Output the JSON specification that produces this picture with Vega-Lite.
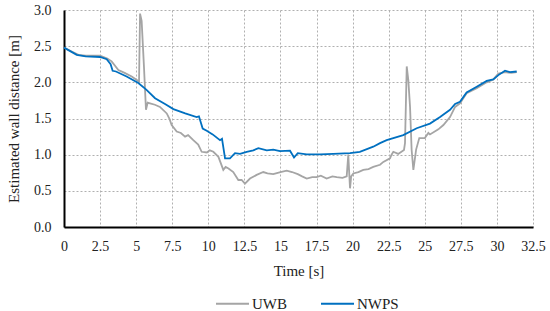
{
  "$schema": "https://vega.github.io/schema/vega-lite/v6.json",
  "width": 469,
  "height": 217,
  "autosize": "none",
  "padding": {"left": 64, "top": 10, "right": 17, "bottom": 84},
  "background": "white",
  "config": {
    "view": {"stroke": null},
    "font": "Liberation Serif, Times New Roman, serif",
    "axis": {
      "labelFont": "Liberation Serif, Times New Roman, serif",
      "titleFont": "Liberation Serif, Times New Roman, serif",
      "labelFontSize": 14,
      "titleFontSize": 15,
      "labelColor": "#222222",
      "titleColor": "#222222",
      "titleFontWeight": "normal",
      "ticks": false,
      "domainColor": "#000000",
      "domainWidth": 2,
      "gridColor": "#b0b0b0",
      "gridDash": [2, 2],
      "gridWidth": 1
    },
    "legend": {
      "labelFont": "Liberation Serif, Times New Roman, serif",
      "labelFontSize": 15,
      "labelColor": "#222222"
    }
  },
  "data": {
    "values": [
      {"t": 0, "v": 2.48, "s": "UWB"},
      {"t": 0.5, "v": 2.43, "s": "UWB"},
      {"t": 1, "v": 2.38, "s": "UWB"},
      {"t": 1.5, "v": 2.37, "s": "UWB"},
      {"t": 2.5, "v": 2.37, "s": "UWB"},
      {"t": 3.0, "v": 2.33, "s": "UWB"},
      {"t": 3.3, "v": 2.29, "s": "UWB"},
      {"t": 3.77, "v": 2.17, "s": "UWB"},
      {"t": 4.2, "v": 2.13, "s": "UWB"},
      {"t": 4.69, "v": 2.08, "s": "UWB"},
      {"t": 5.2, "v": 2.01, "s": "UWB"},
      {"t": 5.27, "v": 2.95, "s": "UWB"},
      {"t": 5.38, "v": 2.85, "s": "UWB"},
      {"t": 5.54, "v": 2.22, "s": "UWB"},
      {"t": 5.68, "v": 1.62, "s": "UWB"},
      {"t": 5.8, "v": 1.72, "s": "UWB"},
      {"t": 5.96, "v": 1.71, "s": "UWB"},
      {"t": 6.3, "v": 1.69, "s": "UWB"},
      {"t": 6.65, "v": 1.66, "s": "UWB"},
      {"t": 7.12, "v": 1.57, "s": "UWB"},
      {"t": 7.3, "v": 1.5, "s": "UWB"},
      {"t": 7.46, "v": 1.41, "s": "UWB"},
      {"t": 7.81, "v": 1.32, "s": "UWB"},
      {"t": 8.1, "v": 1.3, "s": "UWB"},
      {"t": 8.39, "v": 1.25, "s": "UWB"},
      {"t": 8.6, "v": 1.27, "s": "UWB"},
      {"t": 8.96, "v": 1.2, "s": "UWB"},
      {"t": 9.3, "v": 1.14, "s": "UWB"},
      {"t": 9.54, "v": 1.04, "s": "UWB"},
      {"t": 9.9, "v": 1.03, "s": "UWB"},
      {"t": 10.1, "v": 1.06, "s": "UWB"},
      {"t": 10.35, "v": 1.04, "s": "UWB"},
      {"t": 10.7, "v": 0.97, "s": "UWB"},
      {"t": 11.04, "v": 0.79, "s": "UWB"},
      {"t": 11.2, "v": 0.83, "s": "UWB"},
      {"t": 11.4, "v": 0.81, "s": "UWB"},
      {"t": 11.73, "v": 0.76, "s": "UWB"},
      {"t": 12.08, "v": 0.65, "s": "UWB"},
      {"t": 12.31, "v": 0.65, "s": "UWB"},
      {"t": 12.54, "v": 0.6, "s": "UWB"},
      {"t": 12.89, "v": 0.67, "s": "UWB"},
      {"t": 13.35, "v": 0.72, "s": "UWB"},
      {"t": 13.81, "v": 0.76, "s": "UWB"},
      {"t": 14.1, "v": 0.74, "s": "UWB"},
      {"t": 14.5, "v": 0.73, "s": "UWB"},
      {"t": 15.0, "v": 0.76, "s": "UWB"},
      {"t": 15.43, "v": 0.78, "s": "UWB"},
      {"t": 15.8, "v": 0.76, "s": "UWB"},
      {"t": 16.2, "v": 0.73, "s": "UWB"},
      {"t": 16.5, "v": 0.7, "s": "UWB"},
      {"t": 16.82, "v": 0.67, "s": "UWB"},
      {"t": 17.2, "v": 0.69, "s": "UWB"},
      {"t": 17.5, "v": 0.69, "s": "UWB"},
      {"t": 17.8, "v": 0.71, "s": "UWB"},
      {"t": 18.2, "v": 0.67, "s": "UWB"},
      {"t": 18.6, "v": 0.7, "s": "UWB"},
      {"t": 18.9, "v": 0.69, "s": "UWB"},
      {"t": 19.3, "v": 0.68, "s": "UWB"},
      {"t": 19.59, "v": 0.7, "s": "UWB"},
      {"t": 19.7, "v": 1.0, "s": "UWB"},
      {"t": 19.75, "v": 0.8, "s": "UWB"},
      {"t": 19.82, "v": 0.535, "s": "UWB"},
      {"t": 19.9, "v": 0.7, "s": "UWB"},
      {"t": 20.05, "v": 0.74, "s": "UWB"},
      {"t": 20.4, "v": 0.76, "s": "UWB"},
      {"t": 20.74, "v": 0.79, "s": "UWB"},
      {"t": 21.1, "v": 0.8, "s": "UWB"},
      {"t": 21.43, "v": 0.83, "s": "UWB"},
      {"t": 21.9, "v": 0.86, "s": "UWB"},
      {"t": 22.13, "v": 0.9, "s": "UWB"},
      {"t": 22.59, "v": 0.95, "s": "UWB"},
      {"t": 22.7, "v": 1.0, "s": "UWB"},
      {"t": 22.82, "v": 1.04, "s": "UWB"},
      {"t": 23.16, "v": 1.01, "s": "UWB"},
      {"t": 23.56, "v": 1.065, "s": "UWB"},
      {"t": 23.63, "v": 1.16, "s": "UWB"},
      {"t": 23.75, "v": 2.22, "s": "UWB"},
      {"t": 23.86, "v": 2.03, "s": "UWB"},
      {"t": 23.98, "v": 1.66, "s": "UWB"},
      {"t": 24.09, "v": 1.065, "s": "UWB"},
      {"t": 24.21, "v": 0.79, "s": "UWB"},
      {"t": 24.4, "v": 1.07, "s": "UWB"},
      {"t": 24.62, "v": 1.23, "s": "UWB"},
      {"t": 25.0, "v": 1.23, "s": "UWB"},
      {"t": 25.25, "v": 1.3, "s": "UWB"},
      {"t": 25.36, "v": 1.28, "s": "UWB"},
      {"t": 25.94, "v": 1.35, "s": "UWB"},
      {"t": 26.29, "v": 1.41, "s": "UWB"},
      {"t": 26.75, "v": 1.52, "s": "UWB"},
      {"t": 27.1, "v": 1.66, "s": "UWB"},
      {"t": 27.44, "v": 1.71, "s": "UWB"},
      {"t": 27.9, "v": 1.85, "s": "UWB"},
      {"t": 28.6, "v": 1.92, "s": "UWB"},
      {"t": 29.29, "v": 2.0, "s": "UWB"},
      {"t": 29.75, "v": 2.04, "s": "UWB"},
      {"t": 30.1, "v": 2.12, "s": "UWB"},
      {"t": 30.56, "v": 2.14, "s": "UWB"},
      {"t": 31.0, "v": 2.13, "s": "UWB"},
      {"t": 31.37, "v": 2.14, "s": "UWB"},
      {"t": 0, "v": 2.48, "s": "NWPS"},
      {"t": 0.88, "v": 2.38, "s": "NWPS"},
      {"t": 1.5, "v": 2.36, "s": "NWPS"},
      {"t": 2.5, "v": 2.35, "s": "NWPS"},
      {"t": 2.96, "v": 2.32, "s": "NWPS"},
      {"t": 3.23, "v": 2.25, "s": "NWPS"},
      {"t": 3.37, "v": 2.16, "s": "NWPS"},
      {"t": 3.6, "v": 2.15, "s": "NWPS"},
      {"t": 4.34, "v": 2.08, "s": "NWPS"},
      {"t": 5.15, "v": 1.99, "s": "NWPS"},
      {"t": 5.7, "v": 1.9, "s": "NWPS"},
      {"t": 6.31, "v": 1.78, "s": "NWPS"},
      {"t": 7.0, "v": 1.7, "s": "NWPS"},
      {"t": 7.58, "v": 1.63, "s": "NWPS"},
      {"t": 8.4, "v": 1.57, "s": "NWPS"},
      {"t": 9.19, "v": 1.52, "s": "NWPS"},
      {"t": 9.35, "v": 1.53, "s": "NWPS"},
      {"t": 9.61, "v": 1.36, "s": "NWPS"},
      {"t": 9.89, "v": 1.33, "s": "NWPS"},
      {"t": 10.3, "v": 1.28, "s": "NWPS"},
      {"t": 10.81, "v": 1.2, "s": "NWPS"},
      {"t": 10.95, "v": 1.22, "s": "NWPS"},
      {"t": 11.16, "v": 0.95, "s": "NWPS"},
      {"t": 11.5, "v": 0.95, "s": "NWPS"},
      {"t": 11.85, "v": 1.02, "s": "NWPS"},
      {"t": 12.2, "v": 1.01, "s": "NWPS"},
      {"t": 12.66, "v": 1.04, "s": "NWPS"},
      {"t": 13.12, "v": 1.06, "s": "NWPS"},
      {"t": 13.47, "v": 1.09, "s": "NWPS"},
      {"t": 14.05, "v": 1.06, "s": "NWPS"},
      {"t": 14.5, "v": 1.07, "s": "NWPS"},
      {"t": 14.97, "v": 1.05, "s": "NWPS"},
      {"t": 15.66, "v": 1.055, "s": "NWPS"},
      {"t": 15.94, "v": 0.96, "s": "NWPS"},
      {"t": 16.2, "v": 1.02, "s": "NWPS"},
      {"t": 16.82, "v": 1.005, "s": "NWPS"},
      {"t": 17.74, "v": 1.005, "s": "NWPS"},
      {"t": 18.66, "v": 1.01, "s": "NWPS"},
      {"t": 19.82, "v": 1.02, "s": "NWPS"},
      {"t": 20.5, "v": 1.04, "s": "NWPS"},
      {"t": 21.43, "v": 1.11, "s": "NWPS"},
      {"t": 21.9, "v": 1.16, "s": "NWPS"},
      {"t": 22.36, "v": 1.2, "s": "NWPS"},
      {"t": 22.82, "v": 1.23, "s": "NWPS"},
      {"t": 23.51, "v": 1.27, "s": "NWPS"},
      {"t": 24.44, "v": 1.365, "s": "NWPS"},
      {"t": 25.36, "v": 1.43, "s": "NWPS"},
      {"t": 26.06, "v": 1.52, "s": "NWPS"},
      {"t": 26.75, "v": 1.62, "s": "NWPS"},
      {"t": 27.1, "v": 1.7, "s": "NWPS"},
      {"t": 27.44, "v": 1.73, "s": "NWPS"},
      {"t": 27.9, "v": 1.86, "s": "NWPS"},
      {"t": 28.6, "v": 1.94, "s": "NWPS"},
      {"t": 29.29, "v": 2.02, "s": "NWPS"},
      {"t": 29.75, "v": 2.04, "s": "NWPS"},
      {"t": 30.1, "v": 2.1, "s": "NWPS"},
      {"t": 30.56, "v": 2.16, "s": "NWPS"},
      {"t": 30.9, "v": 2.14, "s": "NWPS"},
      {"t": 31.37, "v": 2.15, "s": "NWPS"}
    ]
  },
  "mark": {"type": "line", "strokeWidth": 1.8, "interpolate": "linear"},
  "encoding": {
    "x": {
      "field": "t",
      "type": "quantitative",
      "scale": {"domain": [0, 32.5], "nice": false, "zero": true},
      "axis": {
        "title": "Time [s]",
        "values": [0, 2.5, 5, 7.5, 10, 12.5, 15, 17.5, 20, 22.5, 25, 27.5, 30, 32.5],
        "labelExpr": "'' + datum.value",
        "labelPadding": 12,
        "titlePadding": 10,
        "labelFlush": false
      }
    },
    "y": {
      "field": "v",
      "type": "quantitative",
      "scale": {"domain": [0, 3], "nice": false},
      "axis": {
        "title": "Estimated wall distance [m]",
        "values": [0, 0.5, 1, 1.5, 2, 2.5, 3],
        "format": ".1f",
        "labelPadding": 13,
        "titlePadding": 12,
        "labelFlush": false
      }
    },
    "color": {
      "field": "s",
      "type": "nominal",
      "sort": ["UWB", "NWPS"],
      "scale": {"domain": ["UWB", "NWPS"], "range": ["#A5A5A5", "#0070C0"]},
      "legend": {
        "title": null,
        "orient": "none",
        "direction": "horizontal",
        "legendX": 151,
        "legendY": 276,
        "symbolType": "stroke",
        "symbolSize": 1089,
        "symbolStrokeWidth": 2,
        "symbolOpacity": 1,
        "columnPadding": 30,
        "labelOffset": 2
      }
    }
  }
}
